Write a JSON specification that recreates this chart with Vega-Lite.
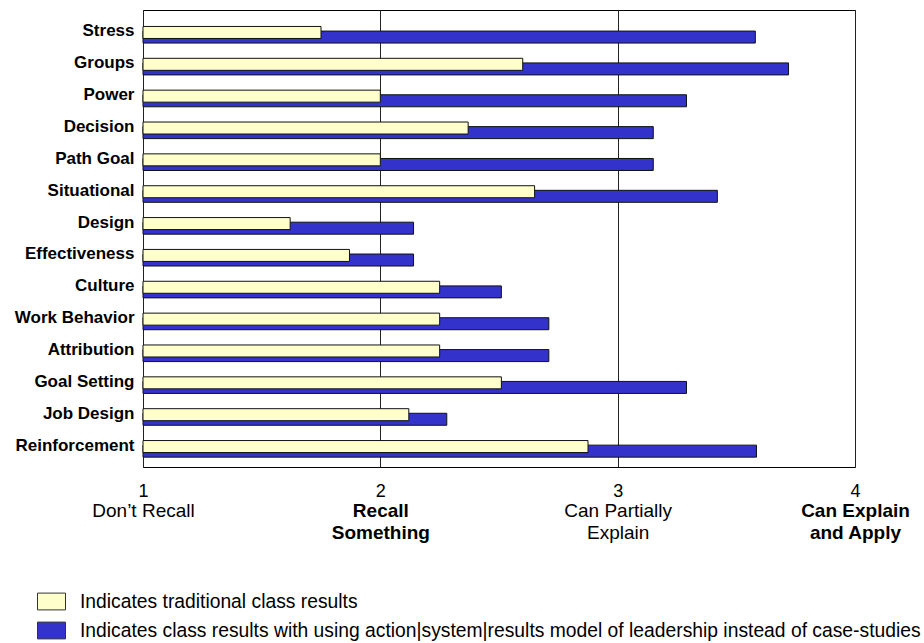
{
  "$schema": "https://vega.github.io/schema/vega-lite/v6.json",
  "autosize": "none",
  "width": 712,
  "height": 457,
  "padding": {"left": 143, "top": 10, "right": 69, "bottom": 176},
  "background": "white",
  "config": {
    "view": {"stroke": "#000", "strokeWidth": 1},
    "font": "Liberation Sans"
  },
  "data": {
    "values": [
      {"topic": "Stress", "group": "Indicates traditional class results", "score": 1.75},
      {"topic": "Groups", "group": "Indicates traditional class results", "score": 2.60},
      {"topic": "Power", "group": "Indicates traditional class results", "score": 2.00},
      {"topic": "Decision", "group": "Indicates traditional class results", "score": 2.37},
      {"topic": "Path Goal", "group": "Indicates traditional class results", "score": 2.00},
      {"topic": "Situational", "group": "Indicates traditional class results", "score": 2.65},
      {"topic": "Design", "group": "Indicates traditional class results", "score": 1.62},
      {"topic": "Effectiveness", "group": "Indicates traditional class results", "score": 1.87},
      {"topic": "Culture", "group": "Indicates traditional class results", "score": 2.25},
      {"topic": "Work Behavior", "group": "Indicates traditional class results", "score": 2.25},
      {"topic": "Attribution", "group": "Indicates traditional class results", "score": 2.25},
      {"topic": "Goal Setting", "group": "Indicates traditional class results", "score": 2.51},
      {"topic": "Job Design", "group": "Indicates traditional class results", "score": 2.12},
      {"topic": "Reinforcement", "group": "Indicates traditional class results", "score": 2.875},
      {"topic": "Stress", "group": "Indicates class results with using action|system|results model of leadership instead of case-studies", "score": 3.58},
      {"topic": "Groups", "group": "Indicates class results with using action|system|results model of leadership instead of case-studies", "score": 3.72},
      {"topic": "Power", "group": "Indicates class results with using action|system|results model of leadership instead of case-studies", "score": 3.29},
      {"topic": "Decision", "group": "Indicates class results with using action|system|results model of leadership instead of case-studies", "score": 3.15},
      {"topic": "Path Goal", "group": "Indicates class results with using action|system|results model of leadership instead of case-studies", "score": 3.15},
      {"topic": "Situational", "group": "Indicates class results with using action|system|results model of leadership instead of case-studies", "score": 3.42},
      {"topic": "Design", "group": "Indicates class results with using action|system|results model of leadership instead of case-studies", "score": 2.14},
      {"topic": "Effectiveness", "group": "Indicates class results with using action|system|results model of leadership instead of case-studies", "score": 2.14},
      {"topic": "Culture", "group": "Indicates class results with using action|system|results model of leadership instead of case-studies", "score": 2.51},
      {"topic": "Work Behavior", "group": "Indicates class results with using action|system|results model of leadership instead of case-studies", "score": 2.71},
      {"topic": "Attribution", "group": "Indicates class results with using action|system|results model of leadership instead of case-studies", "score": 2.71},
      {"topic": "Goal Setting", "group": "Indicates class results with using action|system|results model of leadership instead of case-studies", "score": 3.29},
      {"topic": "Job Design", "group": "Indicates class results with using action|system|results model of leadership instead of case-studies", "score": 2.28},
      {"topic": "Reinforcement", "group": "Indicates class results with using action|system|results model of leadership instead of case-studies", "score": 3.585}
    ]
  },
  "encoding": {
    "y": {
      "field": "topic", "type": "nominal",
      "sort": ["Stress","Groups","Power","Decision","Path Goal","Situational","Design","Effectiveness","Culture","Work Behavior","Attribution","Goal Setting","Job Design","Reinforcement"],
      "scale": {"paddingInner": 0, "paddingOuter": 0.174},
      "axis": {
        "title": null, "domain": false, "ticks": false, "labelPadding": 9,
        "labelFont": "Liberation Sans",
        "labelFontSize": 17, "labelFontWeight": "bold", "labelColor": "#000", "labelLimit": 300
      }
    },
    "color": {
      "field": "group", "type": "nominal",
      "scale": {
        "domain": ["Indicates traditional class results", "Indicates class results with using action|system|results model of leadership instead of case-studies"],
        "range": ["#FFFFCC", "#3333CC"]
      },
      "legend": {
        "title": null, "orient": "none", "legendX": -106, "legendY": 577,
        "padding": 0, "rowPadding": 4, "labelOffset": 14,
        "symbolType": "M-1,-0.6H1V0.6H-1Z", "symbolSize": 784,
        "symbolStrokeColor": "#333", "symbolStrokeWidth": 1, "symbolOpacity": 1,
        "labelFont": "Liberation Sans", "labelFontSize": 19.3, "labelColor": "#000", "labelLimit": 1000
      }
    }
  },
  "layer": [
    {
      "transform": [{"filter": "datum.group != 'Indicates traditional class results'"}],
      "mark": {"type": "bar", "height": 12, "yOffset": 5.6, "stroke": "#111", "strokeWidth": 1},
      "encoding": {
        "x": {
          "field": "score", "type": "quantitative",
          "scale": {"domain": [1, 4], "zero": false, "nice": false},
          "axis": {
            "orient": "bottom", "title": null, "values": [1, 2, 3, 4], "format": "d",
            "domain": false, "ticks": false, "tickSize": 0, "grid": true, "gridColor": "#222", "gridOpacity": 1, "gridWidth": 1,
            "labelPadding": 15.5, "labelFont": "Liberation Sans",
            "labelFontSize": 18, "labelColor": "#000", "labelFlush": false, "labelOverlap": false
          }
        },
        "x2": {"datum": 1}
      }
    },
    {
      "transform": [{"filter": "datum.group == 'Indicates traditional class results'"}],
      "mark": {"type": "bar", "height": 12, "yOffset": 1, "stroke": "#111", "strokeWidth": 1},
      "encoding": {
        "x": {
          "field": "score", "type": "quantitative",
          "axis": {
            "orient": "bottom", "title": null, "values": [1, 2, 3, 4],
            "labelExpr": "datum.value == 1 ? ['Don’t Recall'] : datum.value == 2 ? ['Recall', 'Something'] : datum.value == 3 ? ['Can Partially', 'Explain'] : ['Can Explain', 'and Apply']",
            "domain": false, "ticks": false, "tickSize": 0, "grid": false,
            "labelPadding": 34.7, "labelFont": "Liberation Sans",
            "labelFontSize": 19, "labelLineHeight": 21.5, "labelColor": "#000", "labelFlush": false, "labelOverlap": false,
            "labelFontWeight": {"condition": {"test": "datum.value == 2 || datum.value == 4", "value": "bold"}, "value": "normal"}
          }
        },
        "x2": {"datum": 1}
      }
    }
  ],
  "resolve": {"axis": {"x": "independent"}}
}
